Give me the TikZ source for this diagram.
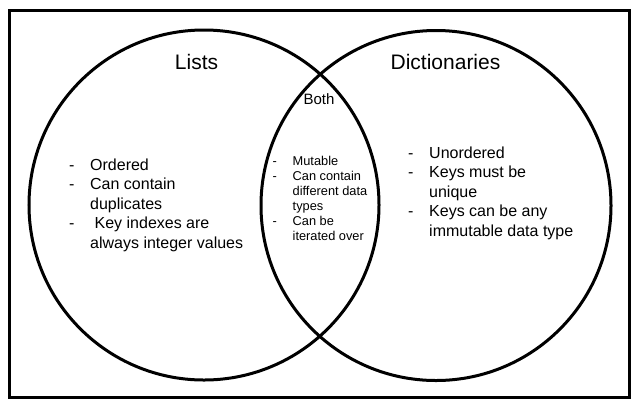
\documentclass[tikz,border=0pt]{standalone}
\usepackage{fontspec}
\setmainfont{Liberation Sans}
\begin{document}
\begin{tikzpicture}[x=1bp,y=-1bp,
  frame/.style={draw=black,line width=3bp},
  setring/.style={draw=black,line width=3bp},
  title/.style={font=\fontsize{21bp}{25bp}\selectfont,anchor=base,inner sep=0pt},
  bigtxt/.style={font=\fontsize{16bp}{19.5bp}\selectfont,anchor=base west,inner sep=0pt},
  smalltxt/.style={font=\fontsize{12.8bp}{15.1bp}\selectfont,anchor=base west,inner sep=0pt}]
\useasboundingbox (0,0) rectangle (639,410);
\draw[frame] (9.5,10.5) rectangle (629.5,397);
\node[setring,circle,minimum size=350bp,inner sep=0pt] (lists) at (204,205) {};
\node[setring,circle,minimum size=350bp,inner sep=0pt] (dicts) at (436,205.5) {};
\node[title] (tl) at (196.5,69) {Lists};
\node[title] (td) at (445.5,69) {Dictionaries};
\node[font=\fontsize{15bp}{18bp}\selectfont,anchor=base,inner sep=0pt] (tb) at (319,104) {Both};
\node[bigtxt] (ll) at (69,170) {\renewcommand{\arraystretch}{1}\begin{tabular}[t]{@{}p{21bp}@{}l@{}}
-&Ordered\\
-&Can contain\\
&duplicates\\
-&\ Key indexes are\\
&always integer values
\end{tabular}};
\node[bigtxt] (rl) at (408,158) {\renewcommand{\arraystretch}{1}\begin{tabular}[t]{@{}p{21bp}@{}l@{}}
-&Unordered\\
-&Keys must be\\
&unique\\
-&Keys can be any\\
&immutable data type
\end{tabular}};
\node[smalltxt] (ml) at (272.5,165) {\renewcommand{\arraystretch}{1}\begin{tabular}[t]{@{}p{20bp}@{}l@{}}
-&Mutable\\
-&Can contain\\
&different data\\
&types\\
-&Can be\\
&iterated over
\end{tabular}};
\end{tikzpicture}
\end{document}
